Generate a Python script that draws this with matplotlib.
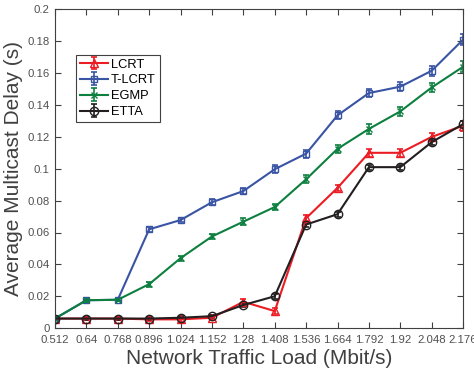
import numpy as np
import matplotlib.pyplot as plt

plt.rcParams['font.family'] = ['Liberation Sans', 'DejaVu Sans']

# Network traffic load (Mbit/s)
load = [0.512, 0.64, 0.768, 0.896, 1.024, 1.152, 1.28, 1.408,
        1.536, 1.664, 1.792, 1.92, 2.048, 2.176]
load_labels = ['0.512', '0.64', '0.768', '0.896', '1.024', '1.152', '1.28',
               '1.408', '1.536', '1.664', '1.792', '1.92', '2.048', '2.176']

# average multicast delay (s)
lcrt = [0.006, 0.006, 0.006, 0.0055, 0.0055, 0.0065, 0.0165, 0.0107,
        0.069, 0.088, 0.110, 0.110, 0.120, 0.127]
t_lcrt = [0.006, 0.0175, 0.0178, 0.062, 0.0678, 0.079, 0.086, 0.0997,
          0.1095, 0.1335, 0.1475, 0.1515, 0.1615, 0.181]
egmp = [0.006, 0.0175, 0.0178, 0.0276, 0.0439, 0.0575, 0.0668, 0.076,
        0.0934, 0.1125, 0.125, 0.136, 0.151, 0.164]
etta = [0.006, 0.006, 0.006, 0.006, 0.0065, 0.0075, 0.0145, 0.020,
        0.065, 0.0715, 0.101, 0.101, 0.1167, 0.128]

# error bar half widths
lcrt_err = [0.001, 0.001, 0.001, 0.001, 0.0015, 0.0015, 0.002, 0.002,
            0.002, 0.002, 0.0025, 0.0025, 0.0025, 0.003]
t_lcrt_err = [0.001, 0.001, 0.001, 0.0015, 0.0015, 0.002, 0.002, 0.0025,
              0.0025, 0.0025, 0.0025, 0.003, 0.003, 0.0035]
egmp_err = [0.001, 0.001, 0.001, 0.0015, 0.0015, 0.0015, 0.002, 0.002,
            0.0025, 0.0025, 0.003, 0.003, 0.003, 0.0035]
etta_err = [0.001, 0.001, 0.001, 0.001, 0.001, 0.001, 0.0015, 0.0015,
            0.0015, 0.0015, 0.0015, 0.0015, 0.0015, 0.002]

fig = plt.figure(figsize=(4.74, 3.75), dpi=100)
ax = fig.add_axes([0.116, 0.125, 0.861, 0.85])

kw = dict(linewidth=1.5, capsize=2.5, elinewidth=1.2, capthick=1.2)
ax.errorbar(load, lcrt, yerr=lcrt_err, color='#ec1c24', marker='^',
            markersize=6, markerfacecolor='none', label='LCRT', **kw)
ax.errorbar(load, t_lcrt, yerr=t_lcrt_err, color='#3a54a4', marker='s',
            markersize=5, markerfacecolor='none', label='T-LCRT', **kw)
ax.errorbar(load, egmp, yerr=egmp_err, color='#0d8040', marker='x',
            markersize=4, label='EGMP', **kw)
ax.errorbar(load, etta, yerr=etta_err, color='#231f20', marker='o',
            markersize=6, markerfacecolor='none', label='ETTA', **kw)

ax.set_xlim(0.512, 2.176)
ax.set_ylim(0, 0.2)
ax.set_xticks(load)
ax.set_xticklabels(load_labels)
ax.set_yticks(np.arange(0, 0.201, 0.02))
ax.set_yticklabels(['0', '0.02', '0.04', '0.06', '0.08', '0.1', '0.12',
                    '0.14', '0.16', '0.18', '0.2'])
ax.tick_params(direction='in', top=True, right=True, labelsize=8.2,
               labelcolor='#505050', color='#404040', length=4)
ax.tick_params(axis='x', pad=5)
ax.tick_params(axis='y', pad=4)
for s in ax.spines.values():
    s.set_color('#404040')
    s.set_linewidth(0.8)

ax.set_xlabel('Network Traffic Load (Mbit/s)', fontsize=15, color='#404040',
              labelpad=3)
ax.set_ylabel('Average Multicast Delay (s)', fontsize=15, color='#404040',
              labelpad=3)

leg = ax.legend(loc='upper left', bbox_to_anchor=(0.052, 0.858), fontsize=9.3,
                fancybox=False, framealpha=1, edgecolor='#404040',
                handlelength=2.2, borderpad=0.3, labelspacing=0.3,
                handletextpad=0.2, borderaxespad=0)
leg.get_frame().set_linewidth(0.8)

fig.savefig('out.png', dpi=100)
